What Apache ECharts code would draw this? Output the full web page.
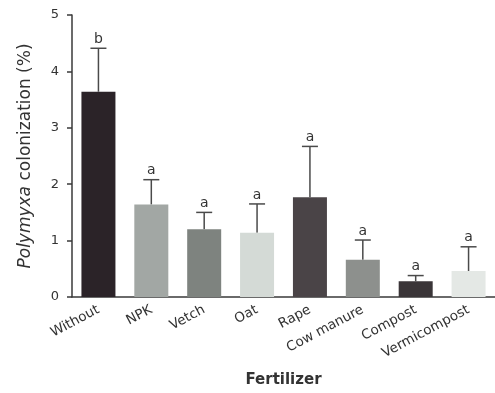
<!DOCTYPE html>
<html>
<head>
<meta charset="utf-8">
<script src="https://cdn.jsdelivr.net/npm/echarts@6/dist/echarts.min.js"></script>
<style>html,body{margin:0;padding:0;background:#fff;}#c{width:495px;height:393px;}</style>
</head>
<body>
<div id="c"></div>
<script>
var categories = ['Without', 'NPK', 'Vetch', 'Oat', 'Rape', 'Cow manure', 'Compost', 'Vermicompost'];
var means = [3.64, 1.64, 1.20, 1.14, 1.77, 0.66, 0.28, 0.46];
var upper = [4.41, 2.08, 1.50, 1.65, 2.67, 1.01, 0.38, 0.89];
var letters = ['b', 'a', 'a', 'a', 'a', 'a', 'a', 'a'];
var barColors = ['#2b2328', '#a2a7a4', '#7e837f', '#d4dad6', '#4a4447', '#8d908d', '#3a3538', '#e4e8e5'];
var yTicks = [0, 1, 2, 3, 4, 5];

var FONT = 'DejaVu Sans, Liberation Sans, Arial, sans-serif';
var chart = echarts.init(document.getElementById('c'), null, {renderer: 'canvas'});
var errData = categories.map(function (c, i) { return [i, means[i], upper[i], letters[i]]; });

chart.setOption({
  animation: false,
  backgroundColor: '#fff',
  grid: {left: 72, top: 15, width: 428, bottom: 94, containLabel: false},
  xAxis: {
    type: 'category',
    data: categories,
    axisLine: {lineStyle: {color: '#3a3a3a', width: 1.5}},
    axisTick: {alignWithLabel: true, length: 4, lineStyle: {color: '#3a3a3a', width: 1.5}},
    axisLabel: {rotate: 28, color: '#333', fontSize: 13.5, fontFamily: FONT, margin: 12, interval: 0},
    name: 'Fertilizer',
    nameLocation: 'middle',
    nameGap: 76,
    nameTextStyle: {fontWeight: 'bold', fontSize: 15, color: '#333', fontFamily: FONT}
  },
  yAxis: {
    type: 'value',
    min: yTicks[0],
    max: yTicks[yTicks.length - 1],
    interval: 1,
    splitLine: {show: false},
    axisLine: {show: true, lineStyle: {color: '#3a3a3a', width: 1.5}},
    axisTick: {show: true, length: 5, lineStyle: {color: '#3a3a3a', width: 1.5}},
    axisLabel: {color: '#333', fontSize: 13, fontFamily: FONT, margin: 13},
    name: '{i|Polymyxa} colonization (%)',
    nameLocation: 'middle',
    nameGap: 38,
    nameTextStyle: {
      fontSize: 17, color: '#333', fontFamily: FONT,
      rich: {i: {fontStyle: 'italic', fontSize: 17, color: '#333', fontFamily: FONT}}
    }
  },
  series: [
    {
      type: 'bar',
      barWidth: 34,
      data: means.map(function (v, i) { return {value: v, itemStyle: {color: barColors[i]}}; })
    },
    {
      type: 'custom',
      data: errData,
      z: 1,
      renderItem: function (params, api) {
        var x = api.value(0);
        var p0 = api.coord([x, api.value(1)]);
        var p1 = api.coord([x, api.value(2)]);
        var half = 8;
        return {
          type: 'group',
          children: [
            {type: 'line', shape: {x1: p0[0], y1: p0[1], x2: p1[0], y2: p1[1]}, style: {stroke: '#4a4a4a', lineWidth: 1.5}},
            {type: 'line', shape: {x1: p1[0] - half, y1: p1[1], x2: p1[0] + half, y2: p1[1]}, style: {stroke: '#4a4a4a', lineWidth: 1.5}},
            {type: 'text', x: p1[0], y: p1[1] - 2, style: {text: api.value(3), fill: '#333', fontSize: 14, fontFamily: FONT, align: 'center', verticalAlign: 'bottom'}}
          ]
        };
      }
    }
  ]
});
</script>
</body>
</html>
